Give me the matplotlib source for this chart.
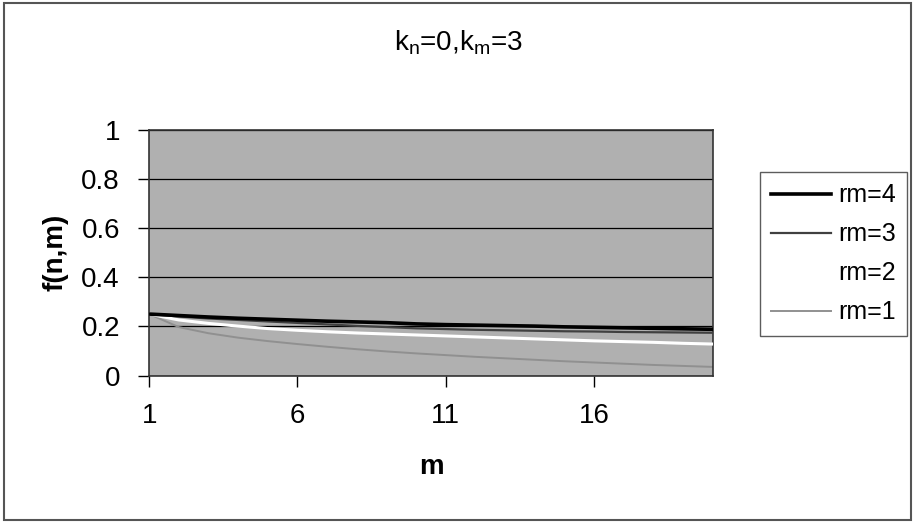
import matplotlib
matplotlib.use("Agg")
import matplotlib.pyplot as plt
from matplotlib.patches import Rectangle

plt.rcParams['font.family'] = ['Liberation Sans', 'DejaVu Sans']
plt.rcParams['mathtext.default'] = 'regular'

m = list(range(1, 21))
rm4 = [0.250, 0.244, 0.238, 0.233, 0.229, 0.225, 0.221, 0.218, 0.215, 0.210,
       0.207, 0.205, 0.203, 0.201, 0.198, 0.196, 0.194, 0.192, 0.190, 0.188]
rm3 = [0.250, 0.240, 0.232, 0.226, 0.220, 0.214, 0.208, 0.202, 0.197, 0.192,
       0.189, 0.186, 0.184, 0.182, 0.180, 0.179, 0.177, 0.176, 0.175, 0.174]
rm2 = [0.250, 0.226, 0.212, 0.201, 0.191, 0.184, 0.178, 0.173, 0.169, 0.165,
       0.161, 0.157, 0.153, 0.149, 0.145, 0.141, 0.138, 0.135, 0.131, 0.128]
rm1 = [0.250, 0.197, 0.172, 0.154, 0.140, 0.128, 0.117, 0.107, 0.098, 0.090,
       0.083, 0.076, 0.070, 0.064, 0.058, 0.053, 0.048, 0.043, 0.039, 0.035]
xticks = [1, 6, 11, 16]
yticks = [0, 0.2, 0.4, 0.6, 0.8, 1]
yticklabels = ['0', '0.2', '0.4', '0.6', '0.8', '1']

fig = plt.figure(figsize=(9.15, 5.23), dpi=100)
ax = fig.add_axes([0.163, 0.282, 0.616, 0.470])
ax.set_facecolor('#b0b0b0')

ax.plot(m, rm4, color='black', lw=2.6, label='rm=4', zorder=5)
ax.plot(m, rm3, color='#404040', lw=1.6, label='rm=3', zorder=4)
ax.plot(m, rm2, color='white', lw=2.2, label='rm=2', zorder=3)
ax.plot(m, rm1, color='#909090', lw=1.4, label='rm=1', zorder=2)

ax.set_xlim(1, 20)
ax.set_ylim(0, 1)
ax.set_xticks(xticks)
ax.set_yticks(yticks)
ax.set_yticklabels(yticklabels)
ax.yaxis.grid(True, color='black', lw=0.9)
ax.set_axisbelow(True)
ax.tick_params(direction='out', length=8, width=1, labelsize=20)
ax.tick_params(axis='y', pad=13)
ax.tick_params(axis='x', pad=12)
for s in ax.spines.values():
    s.set_linewidth(1.2)
    s.set_color('#333333')

ax.set_xlabel('m', fontsize=20, fontweight='bold', labelpad=18)
ax.set_ylabel('f(n,m)', fontsize=20, fontweight='bold', labelpad=9)
fig.text(0.501, 0.918, 'k$_{n}$=0,k$_{m}$=3', fontsize=20, ha='center', va='center')

leg = ax.legend(loc='center left', bbox_to_anchor=(1.083, 0.495), fontsize=18,
                frameon=True, fancybox=False, edgecolor='#333333',
                handlelength=2.4, handletextpad=0.3, labelspacing=0.6,
                borderpad=0.45, borderaxespad=0)
leg.get_frame().set_linewidth(1.0)

fig.patches.append(Rectangle((0.004, 0.006), 0.992, 0.988, transform=fig.transFigure,
                             fill=False, edgecolor='#555555', lw=1.5))

fig.savefig('out.png', dpi=100)
